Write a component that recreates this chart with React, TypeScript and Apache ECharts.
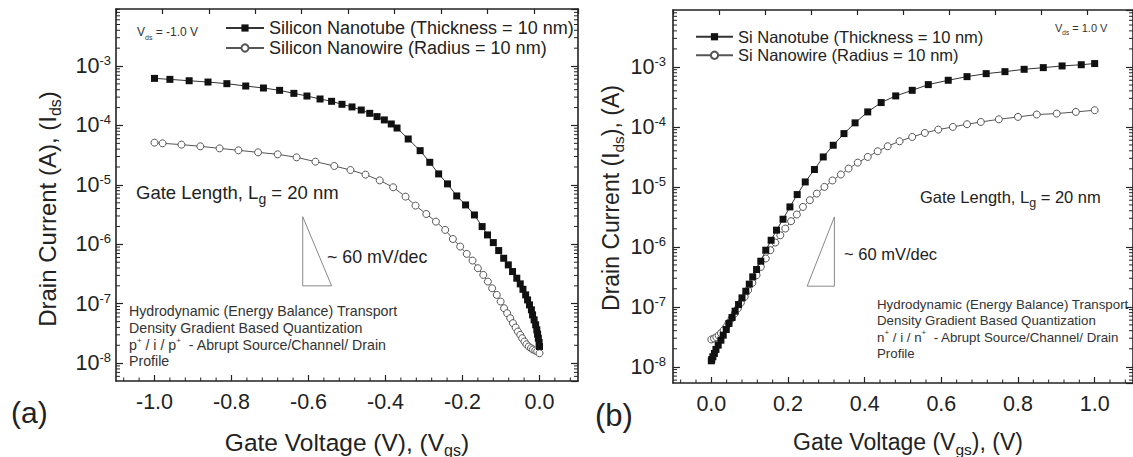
import React, { useEffect, useRef } from "react";
import * as echarts from "echarts";

// ---------- data ----------
// Panel (a): Vds = -1.0 V
const aTubeV = [-1.0, -0.96, -0.91, -0.861, -0.812, -0.763, -0.717, -0.675, -0.638, -0.604, -0.57, -0.54, -0.513, -0.487, -0.463, -0.441, -0.422, -0.403, -0.385, -0.37, -0.341, -0.31, -0.285, -0.262, -0.239, -0.215, -0.192, -0.169, -0.149, -0.135, -0.12, -0.106, -0.093, -0.081, -0.07, -0.059, -0.05, -0.043, -0.036, -0.031, -0.026, -0.021, -0.018, -0.014, -0.01, -0.007, -0.005, -0.003, -0.001, 0.0];
const aTubeI = [6.2e-4, 5.97e-4, 5.66e-4, 5.38e-4, 5.05e-4, 4.61e-4, 4.27e-4, 3.9e-4, 3.47e-4, 3.13e-4, 2.79e-4, 2.55e-4, 2.27e-4, 2.05e-4, 1.82e-4, 1.6e-4, 1.41e-4, 1.24e-4, 1.06e-4, 9.06e-5, 5.92e-5, 3.77e-5, 2.4e-5, 1.53e-5, 1.04e-5, 6.52e-6, 4.6e-6, 3.12e-6, 1.99e-6, 1.44e-6, 1.07e-6, 7.85e-7, 5.83e-7, 4.51e-7, 3.48e-7, 2.69e-7, 2.16e-7, 1.75e-7, 1.41e-7, 1.16e-7, 9.57e-8, 7.89e-8, 6.5e-8, 5.36e-8, 4.42e-8, 3.64e-8, 3.08e-8, 2.63e-8, 2.23e-8, 1.91e-8];
const aWireV = [-1.0, -0.979, -0.93, -0.881, -0.831, -0.782, -0.731, -0.68, -0.631, -0.582, -0.533, -0.491, -0.452, -0.415, -0.38, -0.348, -0.322, -0.294, -0.269, -0.245, -0.225, -0.206, -0.189, -0.174, -0.16, -0.146, -0.134, -0.123, -0.111, -0.101, -0.092, -0.084, -0.076, -0.069, -0.062, -0.056, -0.05, -0.045, -0.039, -0.034, -0.028, -0.022, -0.017, -0.011, -0.006, 0.0];
const aWireI = [5.14e-5, 5.01e-5, 4.76e-5, 4.46e-5, 4.12e-5, 3.82e-5, 3.53e-5, 3.27e-5, 2.91e-5, 2.46e-5, 2.08e-5, 1.78e-5, 1.49e-5, 1.19e-5, 9.12e-6, 6.35e-6, 4.48e-6, 3.24e-6, 2.41e-6, 1.75e-6, 1.23e-6, 9.16e-7, 6.9e-7, 5.33e-7, 3.96e-7, 3.06e-7, 2.36e-7, 1.82e-7, 1.41e-7, 1.09e-7, 8.41e-8, 6.93e-8, 5.71e-8, 4.71e-8, 3.98e-8, 3.41e-8, 2.99e-8, 2.63e-8, 2.31e-8, 2.08e-8, 1.91e-8, 1.79e-8, 1.7e-8, 1.63e-8, 1.57e-8, 1.47e-8];

// Panel (b): Vds = 1.0 V
const bTubeV = [0.0, 0.001, 0.004, 0.008, 0.012, 0.018, 0.025, 0.031, 0.039, 0.046, 0.054, 0.062, 0.071, 0.08, 0.09, 0.099, 0.108, 0.118, 0.129, 0.142, 0.156, 0.17, 0.187, 0.205, 0.224, 0.245, 0.269, 0.292, 0.318, 0.346, 0.375, 0.408, 0.443, 0.481, 0.524, 0.566, 0.618, 0.667, 0.717, 0.766, 0.816, 0.866, 0.915, 0.965, 1.0];
const bTubeI = [1.26e-8, 1.32e-8, 1.47e-8, 1.67e-8, 1.95e-8, 2.3e-8, 2.78e-8, 3.37e-8, 4.19e-8, 5.27e-8, 6.64e-8, 8.47e-8, 1.09e-7, 1.41e-7, 1.82e-7, 2.39e-7, 3.16e-7, 4.19e-7, 5.77e-7, 8.8e-7, 1.29e-6, 1.9e-6, 2.89e-6, 4.64e-6, 7.45e-6, 1.21e-5, 1.95e-5, 3.16e-5, 4.95e-5, 7.74e-5, 1.17e-4, 1.78e-4, 2.55e-4, 3.29e-4, 4.08e-4, 5.08e-4, 6.0e-4, 6.9e-4, 7.74e-4, 8.36e-4, 9.14e-4, 9.75e-4, 1.04e-3, 1.09e-3, 1.14e-3];
const bWireV = [0.0, 0.007, 0.013, 0.019, 0.025, 0.032, 0.039, 0.045, 0.053, 0.061, 0.069, 0.077, 0.087, 0.096, 0.107, 0.118, 0.129, 0.142, 0.154, 0.167, 0.18, 0.193, 0.208, 0.223, 0.239, 0.257, 0.275, 0.295, 0.316, 0.338, 0.358, 0.382, 0.408, 0.434, 0.46, 0.491, 0.524, 0.557, 0.592, 0.63, 0.667, 0.703, 0.75, 0.8, 0.849, 0.901, 0.951, 1.0];
const bWireI = [2.86e-8, 2.97e-8, 3.12e-8, 3.33e-8, 3.64e-8, 4.08e-8, 4.64e-8, 5.41e-8, 6.39e-8, 7.74e-8, 9.38e-8, 1.17e-7, 1.47e-7, 1.9e-7, 2.51e-7, 3.37e-7, 4.64e-7, 6.4e-7, 8.8e-7, 1.18e-6, 1.56e-6, 2.02e-6, 2.68e-6, 3.46e-6, 4.64e-6, 6.0e-6, 7.74e-6, 1.0e-5, 1.28e-5, 1.61e-5, 2.02e-5, 2.54e-5, 3.16e-5, 3.93e-5, 4.76e-5, 5.77e-5, 6.81e-5, 7.94e-5, 9.03e-5, 1.0e-4, 1.11e-4, 1.21e-4, 1.34e-4, 1.47e-4, 1.61e-4, 1.67e-4, 1.78e-4, 1.9e-4];

// ~60 mV/dec guide triangles (V, A)
const slopeAV = [-0.615, -0.615, -0.54, -0.615];
const slopeAI = [2.92e-6, 2.0e-7, 2.0e-7, 2.92e-6];
const slopeBV = [0.25, 0.321, 0.321, 0.25];
const slopeBI = [2.21e-7, 2.21e-7, 3.16e-6, 2.21e-7];

const namesA = ["Silicon Nanotube (Thickness = 10 nm)", "Silicon Nanowire (Radius = 10 nm)"];
const namesB = ["Si Nanotube (Thickness = 10 nm)", "Si Nanowire (Radius = 10 nm)"];

// axis ranges
const xRangeA = [-1.1, 0.1];
const xRangeB = [-0.1, 1.1];
const yRangeA = [Math.pow(10, -8.3), Math.pow(10, -2.04)];
const yRangeB = [Math.pow(10, -8.27), Math.pow(10, -2.05)];

const FONT = "'Liberation Sans', Arial, Helvetica, sans-serif";
const INK = "#222";

const zip = (xs: number[], ys: number[]) => xs.map((x, i) => [x, ys[i]]);

function logMinors(r: number[]) {
  const out: number[] = [];
  for (let e = -10; e <= -1; e++) {
    for (let m = 2; m <= 9; m++) {
      const v = m * Math.pow(10, e);
      if (v > r[0] && v < r[1]) out.push(v);
    }
  }
  return out;
}
function linMinors(r: number[]) {
  const out: number[] = [];
  for (let k = Math.ceil(r[0] / 0.04); k <= Math.floor(r[1] / 0.04); k++) {
    if (k % 5 !== 0) out.push(Math.round(k * 4) / 100);
  }
  return out;
}

const yLabel = (margin: number) => ({
  show: true,
  margin,
  showMinLabel: false,
  showMaxLabel: false,
  formatter: (v: number) => `{b|10}{s|${Math.round(Math.log10(v))}}`,
  rich: {
    b: { fontSize: 21.5, lineHeight: 24, fontFamily: FONT, color: INK },
    s: { fontSize: 13, lineHeight: 13, fontFamily: FONT, color: INK, verticalAlign: "top" },
  },
});

function yAxis(grid: number, pos: string, r: number[], label: any) {
  return {
    type: "log",
    logBase: 10,
    gridIndex: grid,
    position: pos,
    min: r[0],
    max: r[1],
    axisLine: { show: true, onZero: false, lineStyle: { color: INK, width: 1.6 } },
    axisTick: { show: true, inside: true, length: 7, lineStyle: { color: INK, width: 1.2 } },
    axisLabel: label || { show: false },
    splitLine: { show: false },
    minorTick: { show: false },
  };
}

function xAxisBottom(grid: number, r: number[]) {
  return {
    type: "value",
    gridIndex: grid,
    position: "bottom",
    min: r[0],
    max: r[1],
    axisLine: { show: true, onZero: false, lineStyle: { color: INK, width: 1.6 } },
    axisTick: { show: true, inside: true, length: 6, lineStyle: { color: INK, width: 1.2 } },
    axisLabel: {
      show: true,
      margin: 10,
      showMinLabel: false,
      showMaxLabel: false,
      fontSize: 21.5,
      fontFamily: FONT,
      color: INK,
      formatter: (v: number) => (Math.abs(v) < 1e-9 ? "0.0" : v.toFixed(1)),
    },
    splitLine: { show: false },
  };
}

function xAxisTop(grid: number, max: number) {
  return {
    type: "value",
    gridIndex: grid,
    position: "top",
    min: -1,
    max,
    interval: 1,
    axisLine: { show: true, onZero: false, lineStyle: { color: INK, width: 1.6 } },
    axisTick: { show: true, inside: true, length: 5, lineStyle: { color: INK, width: 1.2 } },
    axisLabel: { show: false },
    splitLine: { show: false },
  };
}

const yMinorRender = (params: any, api: any) => {
  const cs = params.coordSys;
  const y = api.coord([api.value(0), api.value(1)])[1];
  const st = { stroke: INK, lineWidth: 1 };
  return {
    type: "group",
    children: [
      { type: "line", shape: { x1: cs.x, y1: y, x2: cs.x + 4, y2: y }, style: st },
      { type: "line", shape: { x1: cs.x + cs.width - 4, y1: y, x2: cs.x + cs.width, y2: y }, style: st },
    ],
  };
};
const xMinorRender = (params: any, api: any) => {
  const cs = params.coordSys;
  const x = api.coord([api.value(0), api.value(1)])[0];
  const b = cs.y + cs.height;
  return { type: "line", shape: { x1: x, y1: b, x2: x, y2: b - 3.5 }, style: { stroke: INK, lineWidth: 1 } };
};

function tubeSeries(name: string, xi: number, yi: number, data: number[][]) {
  return {
    type: "line",
    name,
    xAxisIndex: xi,
    yAxisIndex: yi,
    data,
    symbol: "rect",
    symbolSize: 7,
    showSymbol: true,
    itemStyle: { color: "#111" },
    lineStyle: { color: "#333", width: 1 },
    emphasis: { disabled: true },
    z: 4,
  };
}
function wireSeries(name: string, xi: number, yi: number, data: number[][]) {
  return {
    type: "line",
    name,
    xAxisIndex: xi,
    yAxisIndex: yi,
    data,
    symbol: "circle",
    symbolSize: 7,
    showSymbol: true,
    itemStyle: { color: "#fff", borderColor: "#555", borderWidth: 1 },
    lineStyle: { color: "#555", width: 1 },
    emphasis: { disabled: true },
    z: 3,
  };
}
function guideSeries(name: string, xi: number, yi: number, data: number[][]) {
  return {
    type: "line",
    name,
    xAxisIndex: xi,
    yAxisIndex: yi,
    data,
    symbol: "none",
    lineStyle: { color: "#888", width: 1 },
    silent: true,
    z: 2,
  };
}

function txt(x: number, y: number, text: string, fontSize: number, opts: any = {}) {
  return {
    type: "text",
    x,
    y,
    rotation: opts.rotation || 0,
    silent: true,
    style: {
      text,
      fontSize,
      fontFamily: FONT,
      fill: opts.fill || INK,
      align: opts.align || "left",
      verticalAlign: opts.verticalAlign || "middle",
      lineHeight: opts.lineHeight || Math.round(fontSize * 1.4),
      rich: opts.rich || {},
    },
  };
}

const subR = (fs: number, fill: string = INK) => ({
  sub: { fontSize: fs, lineHeight: fs, verticalAlign: "bottom", fontFamily: FONT, fill },
});
const supR = (fs: number, fill: string) => ({
  sup: { fontSize: fs, lineHeight: fs, verticalAlign: "top", fontFamily: FONT, fill },
});

export default function App() {
  const ref = useRef<HTMLDivElement>(null);
  useEffect(() => {
    if (!ref.current) return;
    const chart = echarts.init(ref.current, null, { renderer: "svg" });
    const option: any = {
      animation: false,
      backgroundColor: "#fff",
      grid: [
        { left: 116, top: 9, width: 462, height: 372, containLabel: false },
        { left: 673, top: 10, width: 468, height: 373, containLabel: false },
      ],
      xAxis: [
        xAxisBottom(0, xRangeA),
        xAxisTop(0, 8.95),
        xAxisBottom(1, xRangeB),
        xAxisTop(1, 9.0),
      ],
      yAxis: [
        yAxis(0, "left", yRangeA, yLabel(5)),
        yAxis(0, "right", yRangeA, null),
        yAxis(1, "left", yRangeB, yLabel(7)),
        yAxis(1, "right", yRangeB, null),
      ],
      legend: [
        {
          data: namesA,
          orient: "vertical",
          left: 225,
          top: 18,
          padding: 0,
          itemGap: 0,
          itemWidth: 38,
          itemHeight: 9,
          selectedMode: false,
          textStyle: { fontSize: 18, lineHeight: 20, fontFamily: FONT, color: INK },
        },
        {
          data: namesB,
          orient: "vertical",
          left: 695,
          top: 27.5,
          padding: 0,
          itemGap: 0,
          itemWidth: 37,
          itemHeight: 9,
          selectedMode: false,
          textStyle: { fontSize: 16.5, lineHeight: 18.5, fontFamily: FONT, color: INK },
        },
      ],
      series: [
        guideSeries("slopeA", 0, 0, zip(slopeAV, slopeAI)),
        guideSeries("slopeB", 2, 2, zip(slopeBV, slopeBI)),
        wireSeries(namesA[1], 0, 0, zip(aWireV, aWireI)),
        tubeSeries(namesA[0], 0, 0, zip(aTubeV, aTubeI)),
        wireSeries(namesB[1], 2, 2, zip(bWireV, bWireI)),
        tubeSeries(namesB[0], 2, 2, zip(bTubeV, bTubeI)),
        {
          type: "custom",
          name: "yMinorA",
          xAxisIndex: 0,
          yAxisIndex: 0,
          silent: true,
          renderItem: yMinorRender,
          data: logMinors(yRangeA).map((v) => [-0.5, v]),
        },
        {
          type: "custom",
          name: "yMinorB",
          xAxisIndex: 2,
          yAxisIndex: 2,
          silent: true,
          renderItem: yMinorRender,
          data: logMinors(yRangeB).map((v) => [0.5, v]),
        },
        {
          type: "custom",
          name: "xMinorA",
          xAxisIndex: 0,
          yAxisIndex: 0,
          silent: true,
          renderItem: xMinorRender,
          data: linMinors(xRangeA).map((v) => [v, 1e-5]),
        },
        {
          type: "custom",
          name: "xMinorB",
          xAxisIndex: 2,
          yAxisIndex: 2,
          silent: true,
          renderItem: xMinorRender,
          data: linMinors(xRangeB).map((v) => [v, 1e-5]),
        },
      ],
      graphic: [
        txt(137, 32, "V{sub|ds} = -1.0 V", 12, { rich: subR(7, "#333"), fill: "#333" }),
        txt(1055, 28, "V{sub|ds} = 1.0 V", 11, { rich: subR(6.5, "#333"), fill: "#333" }),
        txt(136, 192, "Gate Length, L{sub|g} = 20 nm", 18.5, { rich: subR(14), lineHeight: 27 }),
        txt(920, 197, "Gate Length, L{sub|g} = 20 nm", 16.5, { rich: subR(12.5), lineHeight: 25 }),
        txt(327, 257, "~ 60 mV/dec", 17.8),
        txt(844, 254, "~ 60 mV/dec", 16.5),
        txt(
          129,
          303,
          "Hydrodynamic (Energy Balance) Transport\nDensity Gradient Based Quantization\np{sup|+} / i / p{sup|+}  - Abrupt Source/Channel/ Drain\nProfile",
          14.2,
          { verticalAlign: "top", lineHeight: 16.7, fill: "#333", rich: supR(8, "#333") }
        ),
        txt(
          877,
          296,
          "Hydrodynamic (Energy Balance) Transport\nDensity Gradient Based Quantization\nn{sup|+} / i / n{sup|+}  - Abrupt Source/Channel/ Drain\nProfile",
          13.3,
          { verticalAlign: "top", lineHeight: 16.4, fill: "#333", rich: supR(8, "#333") }
        ),
        txt(11, 412, "(a)", 30),
        txt(595, 415, "(b)", 31),
        txt(347, 442, "Gate Voltage (V), (V{sub|gs})", 24.5, { align: "center", rich: subR(16), lineHeight: 32 }),
        txt(908, 442, "Gate Voltage (V{sub|gs}), (V)", 23, { align: "center", rich: subR(15.5), lineHeight: 31 }),
        txt(47, 209, "Drain Current (A), (I{sub|ds})", 24, {
          align: "center",
          rotation: Math.PI / 2,
          rich: subR(16),
          lineHeight: 32,
        }),
        txt(611, 198, "Drain Current (I{sub|ds}), (A)", 23, {
          align: "center",
          rotation: Math.PI / 2,
          rich: subR(15.5),
          lineHeight: 31,
        }),
      ],
    };
    chart.setOption(option);
    return () => chart.dispose();
  }, []);
  return (
    <div
      ref={ref}
      style={{ position: "absolute", left: 0, top: 0, width: 1133, height: 457, background: "#fff" }}
    />
  );
}
